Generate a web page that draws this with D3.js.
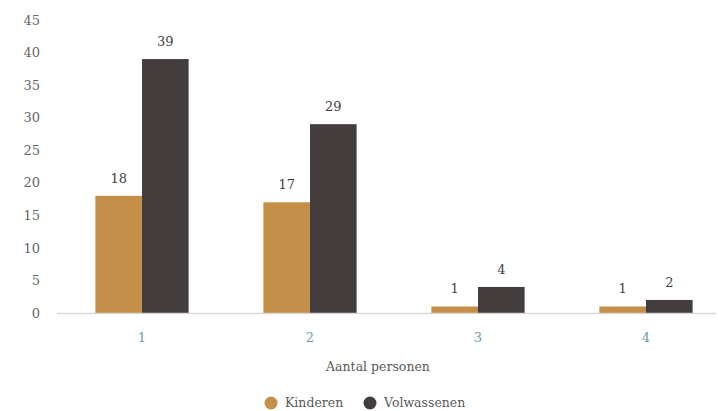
<!DOCTYPE html>
<html>
<head>
<meta charset="utf-8">
<script src="https://cdn.jsdelivr.net/npm/d3@7"></script>
<style>
  body { margin: 0; background: #fff; }
  svg text { font-family: "DejaVu Serif", serif; }
</style>
</head>
<body>
<svg id="chart" width="718" height="411"></svg>
<script>
const categories = ["1", "2", "3", "4"];
const seriesNames = ["Kinderen", "Volwassenen"];
const kinderen = [18, 17, 1, 1];
const volwassenen = [39, 29, 4, 2];
const yTicks = [0, 5, 10, 15, 20, 25, 30, 35, 40, 45];
const colors = ["#c48f48", "#433d3d"];
const xTitle = "Aantal personen";

const svg = d3.select("#chart");
const x0 = d3.scaleBand().domain(categories).range([58, 730]).paddingInner(0).paddingOuter(0);
const bw = x0.bandwidth();
const groupW = bw * 0.555;
const x1 = d3.scaleBand().domain(seriesNames).range([(bw - groupW) / 2, (bw + groupW) / 2]).padding(0);
const y = d3.scaleLinear().domain([0, 45]).range([313, 20]);

// y axis labels
const yAxis = d3.axisLeft(y).tickValues(yTicks).tickSize(0).tickPadding(0);
const gy = svg.append("g").attr("transform", "translate(40,0)").call(yAxis);
gy.select(".domain").remove();
gy.selectAll("text").attr("fill", "#666").style("font-size", "13px").attr("dy", "0.32em")
  .style("font-family", "'DejaVu Serif', serif");

const data = categories.map((c, i) => ({ cat: c, values: [kinderen[i], volwassenen[i]] }));

const groups = svg.append("g").selectAll("g").data(data).join("g")
  .attr("transform", d => `translate(${x0(d.cat)},0)`);

groups.selectAll("rect").data(d => d.values.map((v, j) => ({ v, s: seriesNames[j], j })))
  .join("rect")
  .attr("x", d => x1(d.s))
  .attr("width", x1.bandwidth())
  .attr("y", d => y(d.v))
  .attr("height", d => y(0) - y(d.v))
  .attr("fill", d => colors[d.j]);

groups.selectAll("text.val").data(d => d.values.map((v, j) => ({ v, s: seriesNames[j] })))
  .join("text").attr("class", "val")
  .attr("x", d => x1(d.s) + x1.bandwidth() / 2)
  .attr("y", d => y(d.v) - 13)
  .attr("text-anchor", "middle")
  .attr("fill", "#404040")
  .style("font-size", "13px")
  .text(d => d.v);

// x axis line
svg.append("line").attr("x1", 57).attr("x2", 716).attr("y1", y(0) + 0.5).attr("y2", y(0) + 0.5)
  .attr("stroke", "#d9d9d9").attr("stroke-width", 1.5);

// x axis labels
const xAxis = d3.axisBottom(x0).tickSize(0).tickPadding(0);
const gx = svg.append("g").attr("transform", `translate(0,${y(0)})`).call(xAxis);
gx.select(".domain").remove();
gx.selectAll("text").attr("fill", "#6f9dac").style("font-size", "13px").attr("y", 20)
  .style("font-family", "'DejaVu Serif', serif");

svg.append("text").attr("x", 378).attr("y", 371).attr("text-anchor", "middle")
  .attr("fill", "#595959").style("font-size", "12.5px").text(xTitle);

// legend
const legendX = [271, 370];
const lg = svg.append("g").selectAll("g").data(seriesNames).join("g")
  .attr("transform", (d, i) => `translate(${legendX[i]},403)`);
lg.append("circle").attr("r", 6.5).attr("fill", (d, i) => colors[i]);
lg.append("text").attr("x", 14).attr("dy", "0.35em").attr("fill", "#595959")
  .style("font-size", "12.5px").text(d => d);
</script>
</body>
</html>
